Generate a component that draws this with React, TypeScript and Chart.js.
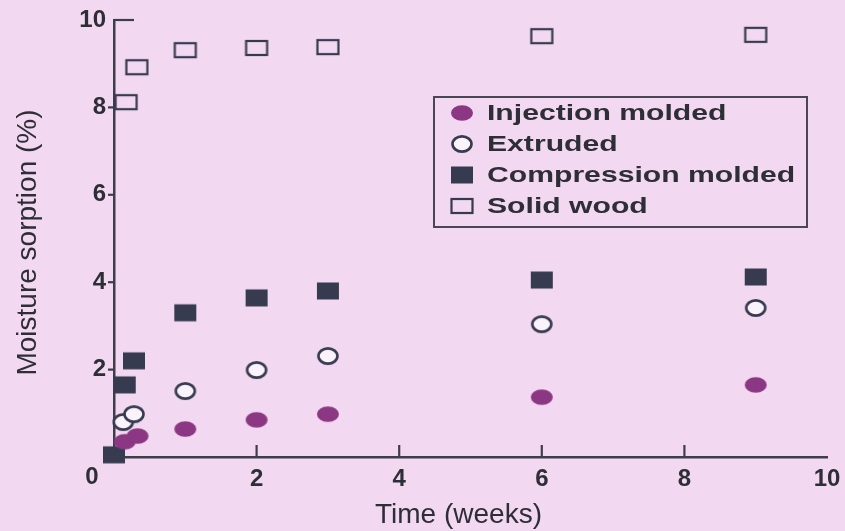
import React, { useEffect, useRef } from 'react';
import { Chart, registerables } from 'chart.js';

Chart.register(...registerables);

// ---- data ----
const seriesNames = ['Injection molded', 'Extruded', 'Compression molded', 'Solid wood'];

const injectionX = [0.15, 0.33, 1, 2, 3, 6, 9];
const injectionY = [0.35, 0.48, 0.64, 0.85, 0.98, 1.37, 1.65];

const extrudedX = [0.13, 0.28, 1, 2, 3, 6, 9];
const extrudedY = [0.8, 0.98, 1.51, 1.99, 2.31, 3.04, 3.41];

const compressionX = [0, 0.15, 0.28, 1, 2, 3, 6, 9];
const compressionY = [0.05, 1.65, 2.2, 3.3, 3.64, 3.8, 4.05, 4.12];

const woodX = [0.17, 0.32, 1, 2, 3, 6, 9];
const woodY = [8.12, 8.92, 9.31, 9.36, 9.38, 9.63, 9.66];

const xTickValues = [0, 2, 4, 6, 8, 10];
const yTickValues = [0, 2, 4, 6, 8, 10];

const xTitle = 'Time (weeks)';
const yTitle = 'Moisture sorption (%)';

// ---- styles ----
const BG = '#f2d8f1';
const PURPLE = '#8b3783';
const DARK = '#373b4f';
const LINE = '#3d3d4c';
const TEXT = '#2e2e36';
const FONT = '"Liberation Sans", Arial, Helvetica, sans-serif';

function makeMarker(kind: string): HTMLCanvasElement {
  const c = document.createElement('canvas');
  c.width = 26;
  c.height = 22;
  const ctx = c.getContext('2d')!;
  const cx = 13, cy = 11;
  if (kind === 'filledCircle') {
    ctx.fillStyle = PURPLE;
    ctx.beginPath();
    ctx.ellipse(cx, cy, 11, 7.8, 0, 0, Math.PI * 2);
    ctx.fill();
  } else if (kind === 'openCircle') {
    ctx.fillStyle = '#fbf3fb';
    ctx.strokeStyle = DARK;
    ctx.lineWidth = 2.6;
    ctx.beginPath();
    ctx.ellipse(cx, cy, 9.5, 7.6, 0, 0, Math.PI * 2);
    ctx.fill();
    ctx.stroke();
  } else if (kind === 'filledSquare') {
    ctx.fillStyle = DARK;
    ctx.fillRect(cx - 11, cy - 8.5, 22, 17);
  } else {
    ctx.strokeStyle = DARK;
    ctx.lineWidth = 2.2;
    ctx.strokeRect(cx - 10.5, cy - 7, 21, 14);
  }
  return c;
}

function toPoints(xs: number[], ys: number[]) {
  return xs.map((x, i) => ({ x, y: ys[i] }));
}

export default function App() {
  const ref = useRef<HTMLCanvasElement | null>(null);

  useEffect(() => {
    document.body.style.margin = '0';
    document.body.style.background = BG;
    const canvas = ref.current;
    if (!canvas) return;

    const markers = [
      makeMarker('filledCircle'),
      makeMarker('openCircle'),
      makeMarker('filledSquare'),
      makeMarker('openSquare'),
    ];

    const decor = {
      id: 'decor',
      beforeDraw(chart: any) {
        const ctx = chart.ctx;
        ctx.save();
        ctx.fillStyle = BG;
        ctx.fillRect(0, 0, chart.width, chart.height);
        ctx.restore();
      },
      afterDraw(chart: any) {
        const ctx = chart.ctx;
        const xs = chart.scales.x;
        const ys = chart.scales.y;
        const area = chart.chartArea;
        ctx.save();
        ctx.strokeStyle = LINE;
        ctx.lineWidth = 2.2;
        // x ticks, pointing inward
        xTickValues.forEach((v) => {
          if (v === 0 || v === 10) return;
          const px = xs.getPixelForValue(v);
          ctx.beginPath();
          ctx.moveTo(px, area.bottom);
          ctx.lineTo(px, area.bottom - 12);
          ctx.stroke();
        });
        // y ticks
        yTickValues.forEach((v) => {
          if (v === 0) return;
          const py = ys.getPixelForValue(v);
          ctx.beginPath();
          if (v === 10) {
            ctx.moveTo(area.left, py);
            ctx.lineTo(area.left + 20, py);
          } else {
            ctx.moveTo(area.left - 6, py);
            ctx.lineTo(area.left, py);
          }
          ctx.stroke();
        });

        // shared origin label
        ctx.fillStyle = TEXT;
        ctx.font = 'bold 24px ' + FONT;
        ctx.textAlign = 'center';
        ctx.textBaseline = 'middle';
        ctx.fillText('0', area.left - 22, area.bottom + 20);

        // axis titles
        ctx.font = '28px ' + FONT;
        ctx.textAlign = 'center';
        ctx.textBaseline = 'alphabetic';
        ctx.fillText(xTitle, (area.left + area.right) / 2 - 12, 523);
        ctx.save();
        ctx.translate(36, (area.top + area.bottom) / 2 + 4);
        ctx.rotate(-Math.PI / 2);
        ctx.fillText(yTitle, 0, 0);
        ctx.restore();

        // legend
        const bx = 434, by = 97, bw = 373, bh = 130;
        ctx.strokeStyle = '#4a4656';
        ctx.lineWidth = 2;
        ctx.strokeRect(bx, by, bw, bh);
        const rows = [113, 144, 175, 206];
        seriesNames.forEach((name, i) => {
          const m = markers[i];
          ctx.drawImage(m, 462 - m.width / 2, rows[i] - m.height / 2);
          ctx.save();
          ctx.translate(487, rows[i]);
          ctx.scale(1.37, 1);
          ctx.fillStyle = TEXT;
          ctx.font = 'bold 22px ' + FONT;
          ctx.textAlign = 'left';
          ctx.textBaseline = 'middle';
          ctx.fillText(name, 0, 1);
          ctx.restore();
        });
        ctx.restore();
      },
    };

    const mkDataset = (label: string, xs: number[], ys: number[], idx: number) => ({
      label,
      data: toPoints(xs, ys),
      pointStyle: markers[idx],
      pointRadius: 10,
      showLine: false,
      clip: false,
    });

    const chart = new Chart(canvas, {
      type: 'scatter',
      data: {
        datasets: [
          mkDataset(seriesNames[0], injectionX, injectionY, 0),
          mkDataset(seriesNames[1], extrudedX, extrudedY, 1),
          mkDataset(seriesNames[2], compressionX, compressionY, 2),
          mkDataset(seriesNames[3], woodX, woodY, 3),
        ],
      },
      options: {
        animation: false,
        responsive: false,
        events: [],
        layout: { padding: { left: 0, top: 20, right: 18, bottom: 0 } },
        plugins: {
          legend: { display: false },
          tooltip: { enabled: false },
          title: { display: false },
        },
        scales: {
          x: {
            type: 'linear',
            min: 0,
            max: 10,
            afterBuildTicks: (s: any) => {
              s.ticks = xTickValues.map((v) => ({ value: v }));
            },
            afterFit: (s: any) => {
              s.height = 74;
            },
            grid: { display: false },
            border: { display: true, color: LINE, width: 2.5 },
            ticks: {
              padding: 0,
              color: TEXT,
              font: { family: FONT, size: 24, weight: 'bold' },
              maxRotation: 0,
              callback: (v: any) => (v === 0 ? '' : String(v)),
            },
          },
          y: {
            type: 'linear',
            min: 0,
            max: 10,
            afterBuildTicks: (s: any) => {
              s.ticks = yTickValues.map((v) => ({ value: v }));
            },
            afterFit: (s: any) => {
              s.width = 114;
            },
            grid: { display: false },
            border: { display: true, color: LINE, width: 2.5 },
            ticks: {
              padding: 0,
              color: TEXT,
              font: { family: FONT, size: 24, weight: 'bold' },
              callback: (v: any) => (v === 0 ? '' : String(v)),
            },
          },
        },
      },
      plugins: [decor],
    } as any);

    return () => chart.destroy();
  }, []);

  return (
    <div style={{ width: 845, height: 531, background: BG }}>
      <canvas ref={ref} width={845} height={531} style={{ display: 'block' }} />
    </div>
  );
}
